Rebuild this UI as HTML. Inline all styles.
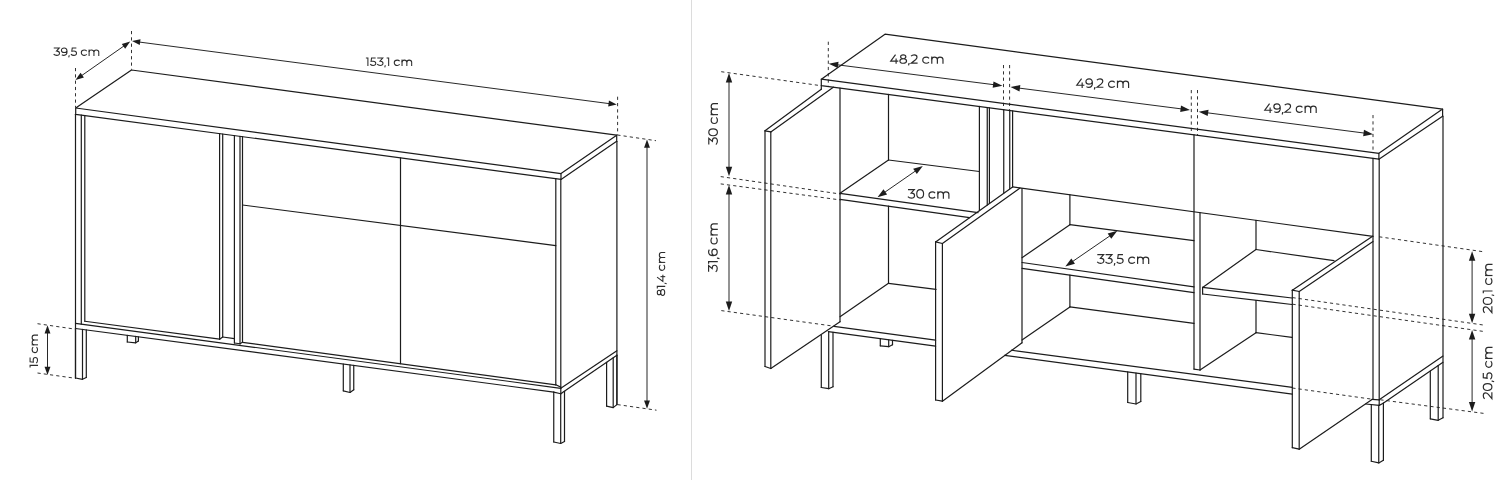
<!DOCTYPE html>
<html><head><meta charset="utf-8"><title>Sideboard dimensions</title>
<style>
html,body{margin:0;padding:0;background:#fff;}
body{width:1500px;height:480px;overflow:hidden;font-family:"Liberation Sans",sans-serif;}
svg{display:block}
.t{font-family:"Liberation Sans",sans-serif;fill:#333333;stroke:none;}
</style></head><body>
<svg width="1500" height="480" viewBox="0 0 1500 480">
<rect x="0" y="0" width="1500" height="480" fill="#ffffff"/>
<rect x="691" y="0" width="1" height="480" fill="#dcdcdc"/>
<g stroke="#1c1c1c" fill="none" stroke-linecap="round" stroke-linejoin="round">
<polygon points="75.70,108.00 131.50,70.00 616.70,135.20 561.00,173.60" fill="none" stroke-width="1.2"/>
<polyline points="75.70,108.00 75.70,114.30 561.00,179.40 561.00,173.60" fill="none" stroke-width="1.2"/>
<polyline points="561.00,179.40 616.70,141.30 616.70,135.20" fill="none" stroke-width="1.2"/>
<line x1="75.50" y1="114.30" x2="75.50" y2="378.00" stroke-width="1.2"/>
<line x1="81.30" y1="115.05" x2="81.30" y2="324.14" stroke-width="1.2"/>
<line x1="84.80" y1="115.52" x2="84.80" y2="321.27" stroke-width="1.2"/>
<line x1="84.80" y1="321.27" x2="219.60" y2="339.20" stroke-width="1.2"/>
<line x1="219.60" y1="133.60" x2="219.60" y2="339.20" stroke-width="1.2"/>
<line x1="222.70" y1="134.02" x2="222.70" y2="337.00" stroke-width="1.2"/>
<line x1="219.60" y1="339.20" x2="222.70" y2="337.00" stroke-width="1.2"/>
<line x1="222.70" y1="337.00" x2="234.40" y2="338.60" stroke-width="1.2"/>
<line x1="234.40" y1="135.59" x2="234.40" y2="343.03" stroke-width="1.2"/>
<line x1="240.00" y1="136.34" x2="240.00" y2="343.78" stroke-width="1.2"/>
<line x1="242.50" y1="136.68" x2="242.50" y2="342.30" stroke-width="1.2"/>
<line x1="234.40" y1="343.03" x2="240.00" y2="343.78" stroke-width="1.2"/>
<line x1="240.00" y1="343.78" x2="242.50" y2="342.30" stroke-width="1.2"/>
<line x1="242.50" y1="342.30" x2="555.80" y2="384.81" stroke-width="1.2"/>
<line x1="400.50" y1="157.87" x2="400.50" y2="363.74" stroke-width="1.2"/>
<line x1="555.80" y1="178.70" x2="555.80" y2="384.81" stroke-width="1.2"/>
<line x1="242.50" y1="205.00" x2="555.80" y2="245.60" stroke-width="1.2"/>
<line x1="560.80" y1="179.40" x2="560.80" y2="393.75" stroke-width="1.2"/>
<line x1="555.80" y1="384.81" x2="560.80" y2="387.10" stroke-width="1.2"/>
<line x1="616.90" y1="141.30" x2="616.90" y2="404.60" stroke-width="1.2"/>
<line x1="75.50" y1="323.37" x2="560.80" y2="388.30" stroke-width="1.2"/>
<line x1="75.50" y1="328.47" x2="553.75" y2="392.07" stroke-width="1.2"/>
<line x1="553.75" y1="392.07" x2="560.80" y2="393.75" stroke-width="1.2"/>
<line x1="560.80" y1="388.30" x2="616.90" y2="350.80" stroke-width="1.2"/>
<line x1="562.50" y1="392.60" x2="616.90" y2="355.20" stroke-width="1.2"/>
<line x1="560.80" y1="393.75" x2="562.50" y2="392.60" stroke-width="1.2"/>
<line x1="75.50" y1="328.47" x2="75.50" y2="378.00" stroke-width="1.2"/>
<line x1="82.50" y1="329.40" x2="82.50" y2="379.30" stroke-width="1.2"/>
<line x1="86.30" y1="329.90" x2="86.30" y2="377.50" stroke-width="1.2"/>
<polyline points="75.50,378.00 82.50,379.30 86.30,377.50" fill="none" stroke-width="1.2"/>
<line x1="127.30" y1="335.36" x2="127.30" y2="342.00" stroke-width="1.2"/>
<line x1="135.70" y1="336.47" x2="135.70" y2="342.80" stroke-width="1.2"/>
<line x1="138.40" y1="336.83" x2="138.40" y2="341.00" stroke-width="1.2"/>
<polyline points="127.30,342.00 135.70,342.80 138.40,341.00" fill="none" stroke-width="1.2"/>
<line x1="343.30" y1="364.08" x2="343.30" y2="390.80" stroke-width="1.2"/>
<line x1="350.00" y1="364.97" x2="350.00" y2="392.50" stroke-width="1.2"/>
<line x1="353.75" y1="365.47" x2="353.75" y2="389.80" stroke-width="1.2"/>
<polyline points="343.30,390.80 350.00,392.50 353.75,389.80" fill="none" stroke-width="1.2"/>
<line x1="553.75" y1="392.07" x2="553.75" y2="442.00" stroke-width="1.2"/>
<line x1="560.70" y1="393.75" x2="560.70" y2="443.50" stroke-width="1.2"/>
<line x1="564.50" y1="391.30" x2="564.50" y2="441.50" stroke-width="1.2"/>
<polyline points="553.75,442.00 560.70,443.50 564.50,441.50" fill="none" stroke-width="1.2"/>
<line x1="606.60" y1="362.28" x2="606.60" y2="406.10" stroke-width="1.2"/>
<line x1="613.20" y1="357.74" x2="613.20" y2="407.60" stroke-width="1.2"/>
<line x1="616.90" y1="355.20" x2="616.90" y2="404.60" stroke-width="1.2"/>
<polyline points="606.60,406.10 613.20,407.60 616.90,404.60" fill="none" stroke-width="1.2"/>
<line x1="75.50" y1="68.00" x2="75.50" y2="107.50" stroke-width="0.9" stroke-dasharray="3.2 3.1" stroke-linecap="butt"/>
<line x1="131.50" y1="31.00" x2="131.50" y2="69.70" stroke-width="0.9" stroke-dasharray="3.2 3.1" stroke-linecap="butt"/>
<line x1="80.87" y1="76.14" x2="124.83" y2="45.36" stroke-width="0.95"/>
<polygon points="130.20,41.60 125.17,48.72 121.79,43.89" fill="#1c1c1c" stroke="none"/>
<polygon points="75.50,79.90 80.53,72.78 83.91,77.61" fill="#1c1c1c" stroke="none"/>
<line x1="138.50" y1="41.95" x2="610.20" y2="103.75" stroke-width="0.95"/>
<polygon points="616.70,104.60 608.19,106.46 608.95,100.61" fill="#1c1c1c" stroke="none"/>
<polygon points="132.00,41.10 140.51,39.24 139.75,45.09" fill="#1c1c1c" stroke="none"/>
<line x1="617.60" y1="96.70" x2="617.60" y2="135.00" stroke-width="0.9" stroke-dasharray="3.2 3.1" stroke-linecap="butt"/>
<line x1="617.30" y1="135.00" x2="656.00" y2="140.70" stroke-width="0.9" stroke-dasharray="3.2 3.1" stroke-linecap="butt"/>
<line x1="617.50" y1="404.60" x2="656.50" y2="410.20" stroke-width="0.9" stroke-dasharray="3.2 3.1" stroke-linecap="butt"/>
<line x1="647.00" y1="146.06" x2="647.00" y2="402.14" stroke-width="0.95"/>
<polygon points="647.00,408.70 644.05,400.50 649.95,400.50" fill="#1c1c1c" stroke="none"/>
<polygon points="647.00,139.50 649.95,147.70 644.05,147.70" fill="#1c1c1c" stroke="none"/>
<line x1="37.50" y1="323.70" x2="75.50" y2="329.20" stroke-width="0.9" stroke-dasharray="3.2 3.1" stroke-linecap="butt"/>
<line x1="37.50" y1="373.00" x2="75.50" y2="378.30" stroke-width="0.9" stroke-dasharray="3.2 3.1" stroke-linecap="butt"/>
<line x1="47.50" y1="331.76" x2="47.50" y2="368.44" stroke-width="0.95"/>
<polygon points="47.50,375.00 44.55,366.80 50.45,366.80" fill="#1c1c1c" stroke="none"/>
<polygon points="47.50,325.20 50.45,333.40 44.55,333.40" fill="#1c1c1c" stroke="none"/>
<polygon points="821.30,79.20 885.00,34.20 1442.60,109.10 1378.90,153.30" fill="none" stroke-width="1.2"/>
<polyline points="821.30,79.20 821.30,85.60 1378.90,159.20 1378.90,153.30" fill="none" stroke-width="1.2"/>
<polyline points="1378.90,159.20 1442.60,116.20 1442.60,109.10" fill="none" stroke-width="1.2"/>
<line x1="821.30" y1="85.60" x2="821.30" y2="89.20" stroke-width="1.2"/>
<line x1="765.00" y1="130.80" x2="821.30" y2="89.20" stroke-width="1.2"/>
<line x1="770.80" y1="131.90" x2="833.30" y2="87.18" stroke-width="1.2"/>
<line x1="765.00" y1="130.80" x2="770.80" y2="131.90" stroke-width="1.2"/>
<line x1="765.00" y1="130.80" x2="765.00" y2="366.50" stroke-width="1.2"/>
<line x1="770.80" y1="131.90" x2="770.80" y2="368.50" stroke-width="1.2"/>
<line x1="765.00" y1="366.50" x2="770.80" y2="368.50" stroke-width="1.2"/>
<line x1="770.80" y1="368.50" x2="840.00" y2="321.70" stroke-width="1.2"/>
<line x1="840.00" y1="88.07" x2="840.00" y2="321.70" stroke-width="1.2"/>
<line x1="888.50" y1="94.47" x2="888.50" y2="160.00" stroke-width="1.2"/>
<line x1="888.50" y1="206.16" x2="888.50" y2="283.30" stroke-width="1.2"/>
<line x1="888.50" y1="160.00" x2="979.40" y2="171.50" stroke-width="1.2"/>
<line x1="840.00" y1="193.30" x2="888.50" y2="160.00" stroke-width="1.2"/>
<line x1="840.00" y1="193.30" x2="978.00" y2="212.57" stroke-width="1.2"/>
<line x1="840.00" y1="199.30" x2="969.50" y2="217.61" stroke-width="1.2"/>
<line x1="979.40" y1="106.47" x2="979.40" y2="210.60" stroke-width="1.2"/>
<line x1="987.25" y1="107.50" x2="987.25" y2="205.00" stroke-width="1.2"/>
<line x1="989.40" y1="107.79" x2="989.40" y2="203.50" stroke-width="1.2"/>
<line x1="1003.75" y1="109.68" x2="1003.75" y2="193.00" stroke-width="1.2"/>
<line x1="1009.75" y1="110.47" x2="1009.75" y2="188.80" stroke-width="1.2"/>
<line x1="1012.60" y1="110.85" x2="1012.60" y2="186.90" stroke-width="1.2"/>
<line x1="840.00" y1="316.70" x2="888.50" y2="283.30" stroke-width="1.2"/>
<line x1="888.50" y1="283.30" x2="936.00" y2="289.30" stroke-width="1.2"/>
<line x1="935.60" y1="241.90" x2="1012.60" y2="186.90" stroke-width="1.2"/>
<line x1="942.40" y1="243.50" x2="1020.00" y2="188.10" stroke-width="1.2"/>
<line x1="935.60" y1="241.90" x2="942.40" y2="243.50" stroke-width="1.2"/>
<line x1="935.60" y1="241.90" x2="935.60" y2="400.00" stroke-width="1.2"/>
<line x1="942.40" y1="243.50" x2="942.40" y2="401.20" stroke-width="1.2"/>
<line x1="935.60" y1="400.00" x2="942.40" y2="401.20" stroke-width="1.2"/>
<line x1="942.40" y1="401.20" x2="1022.00" y2="342.80" stroke-width="1.2"/>
<line x1="1022.00" y1="188.60" x2="1022.00" y2="342.80" stroke-width="1.2"/>
<line x1="1012.60" y1="186.90" x2="1373.00" y2="236.38" stroke-width="1.2"/>
<line x1="1194.00" y1="134.79" x2="1194.00" y2="369.10" stroke-width="1.2"/>
<line x1="1200.00" y1="212.63" x2="1200.00" y2="370.00" stroke-width="1.2"/>
<line x1="1194.00" y1="369.10" x2="1200.00" y2="370.00" stroke-width="1.2"/>
<line x1="1069.90" y1="194.77" x2="1069.90" y2="224.70" stroke-width="1.2"/>
<line x1="1069.90" y1="224.70" x2="1194.00" y2="240.70" stroke-width="1.2"/>
<line x1="1069.90" y1="224.70" x2="1022.00" y2="257.70" stroke-width="1.2"/>
<line x1="1022.00" y1="262.50" x2="1194.00" y2="286.80" stroke-width="1.2"/>
<line x1="1022.00" y1="268.30" x2="1194.00" y2="292.70" stroke-width="1.2"/>
<line x1="1069.90" y1="275.20" x2="1069.90" y2="306.90" stroke-width="1.2"/>
<line x1="1022.00" y1="340.00" x2="1069.90" y2="306.90" stroke-width="1.2"/>
<line x1="1069.90" y1="306.90" x2="1194.00" y2="323.30" stroke-width="1.2"/>
<line x1="1256.00" y1="220.32" x2="1256.00" y2="249.50" stroke-width="1.2"/>
<line x1="1256.00" y1="249.50" x2="1334.00" y2="260.70" stroke-width="1.2"/>
<line x1="1256.00" y1="249.50" x2="1202.60" y2="287.40" stroke-width="1.2"/>
<line x1="1202.60" y1="287.40" x2="1292.00" y2="298.00" stroke-width="1.2"/>
<line x1="1202.60" y1="294.00" x2="1292.00" y2="304.50" stroke-width="1.2"/>
<line x1="1202.60" y1="287.40" x2="1202.60" y2="294.00" stroke-width="1.2"/>
<line x1="1256.00" y1="300.50" x2="1256.00" y2="332.70" stroke-width="1.2"/>
<line x1="1200.00" y1="370.00" x2="1256.00" y2="332.70" stroke-width="1.2"/>
<line x1="1256.00" y1="332.70" x2="1292.00" y2="337.30" stroke-width="1.2"/>
<line x1="1292.30" y1="290.20" x2="1372.60" y2="236.20" stroke-width="1.2"/>
<line x1="1299.20" y1="291.50" x2="1373.00" y2="241.50" stroke-width="1.2"/>
<line x1="1292.30" y1="290.20" x2="1299.20" y2="291.50" stroke-width="1.2"/>
<line x1="1292.30" y1="290.20" x2="1292.30" y2="447.70" stroke-width="1.2"/>
<line x1="1299.20" y1="291.50" x2="1299.20" y2="449.20" stroke-width="1.2"/>
<line x1="1292.30" y1="447.70" x2="1299.20" y2="449.20" stroke-width="1.2"/>
<line x1="1299.20" y1="449.20" x2="1372.00" y2="399.40" stroke-width="1.2"/>
<line x1="1373.00" y1="158.42" x2="1373.00" y2="399.20" stroke-width="1.2"/>
<line x1="1379.20" y1="159.20" x2="1379.20" y2="405.40" stroke-width="1.2"/>
<line x1="1443.00" y1="116.20" x2="1443.00" y2="417.70" stroke-width="1.2"/>
<line x1="834.00" y1="326.39" x2="935.60" y2="340.20" stroke-width="1.2"/>
<line x1="828.30" y1="331.70" x2="935.60" y2="346.13" stroke-width="1.2"/>
<line x1="1011.50" y1="350.22" x2="1292.30" y2="387.29" stroke-width="1.2"/>
<line x1="1004.60" y1="355.41" x2="1292.30" y2="394.11" stroke-width="1.2"/>
<line x1="1379.20" y1="399.80" x2="1443.00" y2="356.10" stroke-width="1.2"/>
<line x1="1383.20" y1="403.20" x2="1443.00" y2="362.30" stroke-width="1.2"/>
<polyline points="1372.00,399.30 1379.20,399.80" fill="none" stroke-width="1.2"/>
<polyline points="1365.80,404.00 1379.20,405.40" fill="none" stroke-width="1.2"/>
<line x1="1379.20" y1="405.40" x2="1383.20" y2="403.20" stroke-width="1.2"/>
<line x1="821.30" y1="335.00" x2="821.30" y2="387.50" stroke-width="1.2"/>
<line x1="828.70" y1="331.70" x2="828.70" y2="388.70" stroke-width="1.2"/>
<line x1="833.00" y1="332.40" x2="833.00" y2="386.70" stroke-width="1.2"/>
<polyline points="821.30,387.50 828.70,388.70 833.00,386.70" fill="none" stroke-width="1.2"/>
<line x1="880.30" y1="338.69" x2="880.30" y2="345.80" stroke-width="1.2"/>
<line x1="888.70" y1="339.82" x2="888.70" y2="346.70" stroke-width="1.2"/>
<line x1="892.50" y1="340.33" x2="892.50" y2="344.70" stroke-width="1.2"/>
<polyline points="880.30,345.80 888.70,346.70 892.50,344.70" fill="none" stroke-width="1.2"/>
<line x1="1127.70" y1="371.97" x2="1127.70" y2="402.50" stroke-width="1.2"/>
<line x1="1136.00" y1="373.09" x2="1136.00" y2="404.00" stroke-width="1.2"/>
<line x1="1140.80" y1="373.73" x2="1140.80" y2="401.50" stroke-width="1.2"/>
<polyline points="1127.70,402.50 1136.00,404.00 1140.80,401.50" fill="none" stroke-width="1.2"/>
<line x1="1371.30" y1="404.60" x2="1371.30" y2="461.25" stroke-width="1.2"/>
<line x1="1378.75" y1="405.40" x2="1378.75" y2="462.90" stroke-width="1.2"/>
<line x1="1383.40" y1="403.20" x2="1383.40" y2="460.20" stroke-width="1.2"/>
<polyline points="1371.30,461.25 1378.75,462.90 1383.40,460.20" fill="none" stroke-width="1.2"/>
<line x1="1430.30" y1="370.98" x2="1430.30" y2="418.80" stroke-width="1.2"/>
<line x1="1438.20" y1="365.58" x2="1438.20" y2="420.30" stroke-width="1.2"/>
<polyline points="1430.30,418.80 1438.20,420.30 1443.00,417.70" fill="none" stroke-width="1.2"/>
<line x1="828.30" y1="41.70" x2="828.30" y2="87.00" stroke-width="0.9" stroke-dasharray="3.2 3.1" stroke-linecap="butt"/>
<line x1="836.24" y1="64.66" x2="994.96" y2="84.84" stroke-width="0.95"/>
<polygon points="1002.50,85.80 992.67,87.78 993.48,81.43" fill="#1c1c1c" stroke="none"/>
<polygon points="828.70,63.70 838.53,61.72 837.72,68.07" fill="#1c1c1c" stroke="none"/>
<line x1="1003.50" y1="65.00" x2="1003.50" y2="109.60" stroke-width="0.9" stroke-dasharray="3.2 3.1" stroke-linecap="butt"/>
<line x1="1009.60" y1="65.00" x2="1009.60" y2="110.20" stroke-width="0.9" stroke-dasharray="3.2 3.1" stroke-linecap="butt"/>
<line x1="1018.04" y1="87.97" x2="1182.46" y2="109.03" stroke-width="0.95"/>
<polygon points="1190.00,110.00 1180.17,111.97 1180.98,105.62" fill="#1c1c1c" stroke="none"/>
<polygon points="1010.50,87.00 1020.33,85.03 1019.52,91.38" fill="#1c1c1c" stroke="none"/>
<line x1="1191.30" y1="90.00" x2="1191.30" y2="134.50" stroke-width="0.9" stroke-dasharray="3.2 3.1" stroke-linecap="butt"/>
<line x1="1197.50" y1="90.00" x2="1197.50" y2="135.30" stroke-width="0.9" stroke-dasharray="3.2 3.1" stroke-linecap="butt"/>
<line x1="1206.24" y1="112.67" x2="1365.46" y2="133.23" stroke-width="0.95"/>
<polygon points="1373.00,134.20 1363.17,136.16 1363.99,129.81" fill="#1c1c1c" stroke="none"/>
<polygon points="1198.70,111.70 1208.53,109.74 1207.71,116.09" fill="#1c1c1c" stroke="none"/>
<line x1="1373.00" y1="115.00" x2="1373.00" y2="152.70" stroke-width="0.9" stroke-dasharray="3.2 3.1" stroke-linecap="butt"/>
<line x1="721.20" y1="71.70" x2="821.00" y2="85.70" stroke-width="0.9" stroke-dasharray="3.2 3.1" stroke-linecap="butt"/>
<line x1="729.00" y1="80.60" x2="729.00" y2="168.60" stroke-width="0.95"/>
<polygon points="729.00,176.20 725.80,166.70 732.20,166.70" fill="#1c1c1c" stroke="none"/>
<polygon points="729.00,73.00 732.20,82.50 725.80,82.50" fill="#1c1c1c" stroke="none"/>
<line x1="720.70" y1="176.60" x2="840.80" y2="194.10" stroke-width="0.9" stroke-dasharray="3.2 3.1" stroke-linecap="butt"/>
<line x1="720.70" y1="183.90" x2="840.80" y2="200.00" stroke-width="0.9" stroke-dasharray="3.2 3.1" stroke-linecap="butt"/>
<line x1="729.00" y1="192.60" x2="729.00" y2="303.30" stroke-width="0.95"/>
<polygon points="729.00,310.90 725.80,301.40 732.20,301.40" fill="#1c1c1c" stroke="none"/>
<polygon points="729.00,185.00 732.20,194.50 725.80,194.50" fill="#1c1c1c" stroke="none"/>
<line x1="721.30" y1="310.60" x2="834.00" y2="326.20" stroke-width="0.9" stroke-dasharray="3.2 3.1" stroke-linecap="butt"/>
<line x1="883.75" y1="192.97" x2="916.55" y2="170.23" stroke-width="0.95"/>
<polygon points="922.80,165.90 916.82,173.94 913.17,168.68" fill="#1c1c1c" stroke="none"/>
<polygon points="877.50,197.30 883.48,189.26 887.13,194.52" fill="#1c1c1c" stroke="none"/>
<line x1="1071.57" y1="262.20" x2="1111.03" y2="235.10" stroke-width="0.95"/>
<polygon points="1117.30,230.80 1111.28,238.82 1107.66,233.54" fill="#1c1c1c" stroke="none"/>
<polygon points="1065.30,266.50 1071.32,258.48 1074.94,263.76" fill="#1c1c1c" stroke="none"/>
<line x1="1379.20" y1="236.80" x2="1484.50" y2="251.90" stroke-width="0.9" stroke-dasharray="3.2 3.1" stroke-linecap="butt"/>
<line x1="1472.10" y1="258.80" x2="1472.10" y2="315.70" stroke-width="0.95"/>
<polygon points="1472.10,323.30 1468.90,313.80 1475.30,313.80" fill="#1c1c1c" stroke="none"/>
<polygon points="1472.10,251.20 1475.30,260.70 1468.90,260.70" fill="#1c1c1c" stroke="none"/>
<line x1="1292.50" y1="297.60" x2="1484.60" y2="325.20" stroke-width="0.9" stroke-dasharray="3.2 3.1" stroke-linecap="butt"/>
<line x1="1292.50" y1="304.20" x2="1484.60" y2="331.60" stroke-width="0.9" stroke-dasharray="3.2 3.1" stroke-linecap="butt"/>
<line x1="1472.10" y1="337.50" x2="1472.10" y2="403.80" stroke-width="0.95"/>
<polygon points="1472.10,411.40 1468.90,401.90 1475.30,401.90" fill="#1c1c1c" stroke="none"/>
<polygon points="1472.10,329.90 1475.30,339.40 1468.90,339.40" fill="#1c1c1c" stroke="none"/>
<line x1="1292.30" y1="388.00" x2="1372.00" y2="399.20" stroke-width="0.9" stroke-dasharray="3.2 3.1" stroke-linecap="butt"/>
<line x1="1380.40" y1="399.80" x2="1484.50" y2="413.50" stroke-width="0.9" stroke-dasharray="3.2 3.1" stroke-linecap="butt"/>
</g>
<g transform="translate(53.30,55.90) rotate(0) scale(0.01224,-0.01207)" fill="none" stroke="#2c2c2c" stroke-width="1.06" stroke-linecap="butt" stroke-linejoin="miter" vector-effect="non-scaling-stroke"><path vector-effect="non-scaling-stroke" transform="translate(-2,0)" d="M 38 658 L 488 658 L 260 400 C 275 398 290 398 306 398 C 432 398 507 330 507 222 C 507 110 419 42 281 42 C 179 42 86 82 30 150"/><path vector-effect="non-scaling-stroke" transform="translate(588,0)" d="M 110 95 C 155 60 210 42 275 42 C 445 42 535 160 535 360 C 535 550 445 658 295 658 C 165 658 75 580 75 465 C 75 350 160 275 285 275 C 410 275 515 350 532 450"/><path vector-effect="non-scaling-stroke" transform="translate(1198,0)" d="M 98 62 L 98 18 L 62 -118"/><path vector-effect="non-scaling-stroke" transform="translate(1398,0)" d="M 485 658 L 150 658 L 112 385 C 175 393 225 400 285 400 C 425 400 497 330 497 225 C 497 110 410 42 280 42 C 180 42 95 82 42 150"/><path vector-effect="non-scaling-stroke" transform="translate(2200,0)" d="M 530 405 C 478 460 412 488 335 488 C 190 488 88 395 88 265 C 88 135 190 42 335 42 C 412 42 478 70 530 125"/><path vector-effect="non-scaling-stroke" transform="translate(2805,0)" d="M 120 530 L 120 0"/><path vector-effect="non-scaling-stroke" transform="translate(2805,0)" d="M 120 320 C 120 425 190 488 305 488 C 430 488 515 425 515 315 L 515 0"/><path vector-effect="non-scaling-stroke" transform="translate(2805,0)" d="M 515 315 C 515 425 585 488 700 488 C 825 488 910 425 910 315 L 910 0"/></g><g transform="translate(365.90,66.00) rotate(0) scale(0.01221,-0.01207)" fill="none" stroke="#2c2c2c" stroke-width="1.06" stroke-linecap="butt" stroke-linejoin="miter" vector-effect="non-scaling-stroke"><path vector-effect="non-scaling-stroke" transform="translate(-18,0)" d="M 18 658 L 182 658 L 182 0"/><path vector-effect="non-scaling-stroke" transform="translate(312,0)" d="M 485 658 L 150 658 L 112 385 C 175 393 225 400 285 400 C 425 400 497 330 497 225 C 497 110 410 42 280 42 C 180 42 95 82 42 150"/><path vector-effect="non-scaling-stroke" transform="translate(892,0)" d="M 38 658 L 488 658 L 260 400 C 275 398 290 398 306 398 C 432 398 507 330 507 222 C 507 110 419 42 281 42 C 179 42 86 82 30 150"/><path vector-effect="non-scaling-stroke" transform="translate(1482,0)" d="M 98 62 L 98 18 L 62 -118"/><path vector-effect="non-scaling-stroke" transform="translate(1682,0)" d="M 18 658 L 182 658 L 182 0"/><path vector-effect="non-scaling-stroke" transform="translate(2234,0)" d="M 530 405 C 478 460 412 488 335 488 C 190 488 88 395 88 265 C 88 135 190 42 335 42 C 412 42 478 70 530 125"/><path vector-effect="non-scaling-stroke" transform="translate(2839,0)" d="M 120 530 L 120 0"/><path vector-effect="non-scaling-stroke" transform="translate(2839,0)" d="M 120 320 C 120 425 190 488 305 488 C 430 488 515 425 515 315 L 515 0"/><path vector-effect="non-scaling-stroke" transform="translate(2839,0)" d="M 515 315 C 515 425 585 488 700 488 C 825 488 910 425 910 315 L 910 0"/></g><g transform="translate(665.23,296.00) rotate(-90) scale(0.01249,-0.01207)" fill="none" stroke="#2c2c2c" stroke-width="1.06" stroke-linecap="butt" stroke-linejoin="miter" vector-effect="non-scaling-stroke"><path vector-effect="non-scaling-stroke" transform="translate(-32,0)" d="M 310 372 C 195 372 125 428 125 515 C 125 600 195 658 310 658 C 425 658 495 600 495 515 C 495 428 425 372 310 372 C 175 372 75 305 75 205 C 75 105 170 42 310 42 C 450 42 545 105 545 205 C 545 305 445 372 310 372 Z"/><path vector-effect="non-scaling-stroke" transform="translate(588,0)" d="M 18 658 L 182 658 L 182 0"/><path vector-effect="non-scaling-stroke" transform="translate(918,0)" d="M 98 62 L 98 18 L 62 -118"/><path vector-effect="non-scaling-stroke" transform="translate(1118,0)" d="M 392 676 L 50 195 L 588 195"/><path vector-effect="non-scaling-stroke" transform="translate(1118,0)" d="M 432 395 L 432 0"/><path vector-effect="non-scaling-stroke" transform="translate(1965,0)" d="M 530 405 C 478 460 412 488 335 488 C 190 488 88 395 88 265 C 88 135 190 42 335 42 C 412 42 478 70 530 125"/><path vector-effect="non-scaling-stroke" transform="translate(2570,0)" d="M 120 530 L 120 0"/><path vector-effect="non-scaling-stroke" transform="translate(2570,0)" d="M 120 320 C 120 425 190 488 305 488 C 430 488 515 425 515 315 L 515 0"/><path vector-effect="non-scaling-stroke" transform="translate(2570,0)" d="M 515 315 C 515 425 585 488 700 488 C 825 488 910 425 910 315 L 910 0"/></g><g transform="translate(38.02,367.40) rotate(-90) scale(0.01228,-0.01207)" fill="none" stroke="#2c2c2c" stroke-width="1.06" stroke-linecap="butt" stroke-linejoin="miter" vector-effect="non-scaling-stroke"><path vector-effect="non-scaling-stroke" transform="translate(-18,0)" d="M 18 658 L 182 658 L 182 0"/><path vector-effect="non-scaling-stroke" transform="translate(312,0)" d="M 485 658 L 150 658 L 112 385 C 175 393 225 400 285 400 C 425 400 497 330 497 225 C 497 110 410 42 280 42 C 180 42 95 82 42 150"/><path vector-effect="non-scaling-stroke" transform="translate(1114,0)" d="M 530 405 C 478 460 412 488 335 488 C 190 488 88 395 88 265 C 88 135 190 42 335 42 C 412 42 478 70 530 125"/><path vector-effect="non-scaling-stroke" transform="translate(1719,0)" d="M 120 530 L 120 0"/><path vector-effect="non-scaling-stroke" transform="translate(1719,0)" d="M 120 320 C 120 425 190 488 305 488 C 430 488 515 425 515 315 L 515 0"/><path vector-effect="non-scaling-stroke" transform="translate(1719,0)" d="M 515 315 C 515 425 585 488 700 488 C 825 488 910 425 910 315 L 910 0"/></g><g transform="translate(890.10,63.80) rotate(0) scale(0.01416,-0.01357)" fill="none" stroke="#2c2c2c" stroke-width="1.18" stroke-linecap="butt" stroke-linejoin="miter" vector-effect="non-scaling-stroke"><path vector-effect="non-scaling-stroke" transform="translate(-8,0)" d="M 392 676 L 50 195 L 588 195"/><path vector-effect="non-scaling-stroke" transform="translate(-8,0)" d="M 432 395 L 432 0"/><path vector-effect="non-scaling-stroke" transform="translate(617,0)" d="M 310 372 C 195 372 125 428 125 515 C 125 600 195 658 310 658 C 425 658 495 600 495 515 C 495 428 425 372 310 372 C 175 372 75 305 75 205 C 75 105 170 42 310 42 C 450 42 545 105 545 205 C 545 305 445 372 310 372 Z"/><path vector-effect="non-scaling-stroke" transform="translate(1237,0)" d="M 98 62 L 98 18 L 62 -118"/><path vector-effect="non-scaling-stroke" transform="translate(1437,0)" d="M 45 560 C 95 625 170 658 265 658 C 385 658 462 595 462 490 C 462 420 430 365 355 295 L 55 45 L 505 45"/><path vector-effect="non-scaling-stroke" transform="translate(2219,0)" d="M 530 405 C 478 460 412 488 335 488 C 190 488 88 395 88 265 C 88 135 190 42 335 42 C 412 42 478 70 530 125"/><path vector-effect="non-scaling-stroke" transform="translate(2824,0)" d="M 120 530 L 120 0"/><path vector-effect="non-scaling-stroke" transform="translate(2824,0)" d="M 120 320 C 120 425 190 488 305 488 C 430 488 515 425 515 315 L 515 0"/><path vector-effect="non-scaling-stroke" transform="translate(2824,0)" d="M 515 315 C 515 425 585 488 700 488 C 825 488 910 425 910 315 L 910 0"/></g><g transform="translate(1076.20,87.90) rotate(0) scale(0.01407,-0.01371)" fill="none" stroke="#2c2c2c" stroke-width="1.18" stroke-linecap="butt" stroke-linejoin="miter" vector-effect="non-scaling-stroke"><path vector-effect="non-scaling-stroke" transform="translate(-8,0)" d="M 392 676 L 50 195 L 588 195"/><path vector-effect="non-scaling-stroke" transform="translate(-8,0)" d="M 432 395 L 432 0"/><path vector-effect="non-scaling-stroke" transform="translate(617,0)" d="M 110 95 C 155 60 210 42 275 42 C 445 42 535 160 535 360 C 535 550 445 658 295 658 C 165 658 75 580 75 465 C 75 350 160 275 285 275 C 410 275 515 350 532 450"/><path vector-effect="non-scaling-stroke" transform="translate(1227,0)" d="M 98 62 L 98 18 L 62 -118"/><path vector-effect="non-scaling-stroke" transform="translate(1427,0)" d="M 45 560 C 95 625 170 658 265 658 C 385 658 462 595 462 490 C 462 420 430 365 355 295 L 55 45 L 505 45"/><path vector-effect="non-scaling-stroke" transform="translate(2209,0)" d="M 530 405 C 478 460 412 488 335 488 C 190 488 88 395 88 265 C 88 135 190 42 335 42 C 412 42 478 70 530 125"/><path vector-effect="non-scaling-stroke" transform="translate(2814,0)" d="M 120 530 L 120 0"/><path vector-effect="non-scaling-stroke" transform="translate(2814,0)" d="M 120 320 C 120 425 190 488 305 488 C 430 488 515 425 515 315 L 515 0"/><path vector-effect="non-scaling-stroke" transform="translate(2814,0)" d="M 515 315 C 515 425 585 488 700 488 C 825 488 910 425 910 315 L 910 0"/></g><g transform="translate(1264.20,112.90) rotate(0) scale(0.01396,-0.01371)" fill="none" stroke="#2c2c2c" stroke-width="1.18" stroke-linecap="butt" stroke-linejoin="miter" vector-effect="non-scaling-stroke"><path vector-effect="non-scaling-stroke" transform="translate(-8,0)" d="M 392 676 L 50 195 L 588 195"/><path vector-effect="non-scaling-stroke" transform="translate(-8,0)" d="M 432 395 L 432 0"/><path vector-effect="non-scaling-stroke" transform="translate(617,0)" d="M 110 95 C 155 60 210 42 275 42 C 445 42 535 160 535 360 C 535 550 445 658 295 658 C 165 658 75 580 75 465 C 75 350 160 275 285 275 C 410 275 515 350 532 450"/><path vector-effect="non-scaling-stroke" transform="translate(1227,0)" d="M 98 62 L 98 18 L 62 -118"/><path vector-effect="non-scaling-stroke" transform="translate(1427,0)" d="M 45 560 C 95 625 170 658 265 658 C 385 658 462 595 462 490 C 462 420 430 365 355 295 L 55 45 L 505 45"/><path vector-effect="non-scaling-stroke" transform="translate(2209,0)" d="M 530 405 C 478 460 412 488 335 488 C 190 488 88 395 88 265 C 88 135 190 42 335 42 C 412 42 478 70 530 125"/><path vector-effect="non-scaling-stroke" transform="translate(2814,0)" d="M 120 530 L 120 0"/><path vector-effect="non-scaling-stroke" transform="translate(2814,0)" d="M 120 320 C 120 425 190 488 305 488 C 430 488 515 425 515 315 L 515 0"/><path vector-effect="non-scaling-stroke" transform="translate(2814,0)" d="M 515 315 C 515 425 585 488 700 488 C 825 488 910 425 910 315 L 910 0"/></g><g transform="translate(718.00,145.00) rotate(-90) scale(0.01396,-0.01400)" fill="none" stroke="#2c2c2c" stroke-width="1.18" stroke-linecap="butt" stroke-linejoin="miter" vector-effect="non-scaling-stroke"><path vector-effect="non-scaling-stroke" transform="translate(-2,0)" d="M 38 658 L 488 658 L 260 400 C 275 398 290 398 306 398 C 432 398 507 330 507 222 C 507 110 419 42 281 42 C 179 42 86 82 30 150"/><path vector-effect="non-scaling-stroke" transform="translate(588,0)" d="M 320 42 C 165 42 75 165 75 350 C 75 535 165 658 320 658 C 475 658 565 535 565 350 C 565 165 475 42 320 42 Z"/><path vector-effect="non-scaling-stroke" transform="translate(1450,0)" d="M 530 405 C 478 460 412 488 335 488 C 190 488 88 395 88 265 C 88 135 190 42 335 42 C 412 42 478 70 530 125"/><path vector-effect="non-scaling-stroke" transform="translate(2055,0)" d="M 120 530 L 120 0"/><path vector-effect="non-scaling-stroke" transform="translate(2055,0)" d="M 120 320 C 120 425 190 488 305 488 C 430 488 515 425 515 315 L 515 0"/><path vector-effect="non-scaling-stroke" transform="translate(2055,0)" d="M 515 315 C 515 425 585 488 700 488 C 825 488 910 425 910 315 L 910 0"/></g><g transform="translate(717.80,272.30) rotate(-90) scale(0.01397,-0.01400)" fill="none" stroke="#2c2c2c" stroke-width="1.18" stroke-linecap="butt" stroke-linejoin="miter" vector-effect="non-scaling-stroke"><path vector-effect="non-scaling-stroke" transform="translate(-2,0)" d="M 38 658 L 488 658 L 260 400 C 275 398 290 398 306 398 C 432 398 507 330 507 222 C 507 110 419 42 281 42 C 179 42 86 82 30 150"/><path vector-effect="non-scaling-stroke" transform="translate(588,0)" d="M 18 658 L 182 658 L 182 0"/><path vector-effect="non-scaling-stroke" transform="translate(918,0)" d="M 98 62 L 98 18 L 62 -118"/><path vector-effect="non-scaling-stroke" transform="translate(1118,0)" d="M 500 605 C 455 640 400 658 335 658 C 165 658 75 540 75 340 C 75 150 165 42 315 42 C 445 42 535 120 535 235 C 535 350 450 425 325 425 C 200 425 95 350 78 250"/><path vector-effect="non-scaling-stroke" transform="translate(1950,0)" d="M 530 405 C 478 460 412 488 335 488 C 190 488 88 395 88 265 C 88 135 190 42 335 42 C 412 42 478 70 530 125"/><path vector-effect="non-scaling-stroke" transform="translate(2555,0)" d="M 120 530 L 120 0"/><path vector-effect="non-scaling-stroke" transform="translate(2555,0)" d="M 120 320 C 120 425 190 488 305 488 C 430 488 515 425 515 315 L 515 0"/><path vector-effect="non-scaling-stroke" transform="translate(2555,0)" d="M 515 315 C 515 425 585 488 700 488 C 825 488 910 425 910 315 L 910 0"/></g><g transform="translate(907.50,198.75) rotate(0) scale(0.01396,-0.01400)" fill="none" stroke="#2c2c2c" stroke-width="1.18" stroke-linecap="butt" stroke-linejoin="miter" vector-effect="non-scaling-stroke"><path vector-effect="non-scaling-stroke" transform="translate(-2,0)" d="M 38 658 L 488 658 L 260 400 C 275 398 290 398 306 398 C 432 398 507 330 507 222 C 507 110 419 42 281 42 C 179 42 86 82 30 150"/><path vector-effect="non-scaling-stroke" transform="translate(588,0)" d="M 320 42 C 165 42 75 165 75 350 C 75 535 165 658 320 658 C 475 658 565 535 565 350 C 565 165 475 42 320 42 Z"/><path vector-effect="non-scaling-stroke" transform="translate(1450,0)" d="M 530 405 C 478 460 412 488 335 488 C 190 488 88 395 88 265 C 88 135 190 42 335 42 C 412 42 478 70 530 125"/><path vector-effect="non-scaling-stroke" transform="translate(2055,0)" d="M 120 530 L 120 0"/><path vector-effect="non-scaling-stroke" transform="translate(2055,0)" d="M 120 320 C 120 425 190 488 305 488 C 430 488 515 425 515 315 L 515 0"/><path vector-effect="non-scaling-stroke" transform="translate(2055,0)" d="M 515 315 C 515 425 585 488 700 488 C 825 488 910 425 910 315 L 910 0"/></g><g transform="translate(1096.80,263.90) rotate(0) scale(0.01404,-0.01400)" fill="none" stroke="#2c2c2c" stroke-width="1.18" stroke-linecap="butt" stroke-linejoin="miter" vector-effect="non-scaling-stroke"><path vector-effect="non-scaling-stroke" transform="translate(-2,0)" d="M 38 658 L 488 658 L 260 400 C 275 398 290 398 306 398 C 432 398 507 330 507 222 C 507 110 419 42 281 42 C 179 42 86 82 30 150"/><path vector-effect="non-scaling-stroke" transform="translate(588,0)" d="M 38 658 L 488 658 L 260 400 C 275 398 290 398 306 398 C 432 398 507 330 507 222 C 507 110 419 42 281 42 C 179 42 86 82 30 150"/><path vector-effect="non-scaling-stroke" transform="translate(1178,0)" d="M 98 62 L 98 18 L 62 -118"/><path vector-effect="non-scaling-stroke" transform="translate(1378,0)" d="M 485 658 L 150 658 L 112 385 C 175 393 225 400 285 400 C 425 400 497 330 497 225 C 497 110 410 42 280 42 C 180 42 95 82 42 150"/><path vector-effect="non-scaling-stroke" transform="translate(2180,0)" d="M 530 405 C 478 460 412 488 335 488 C 190 488 88 395 88 265 C 88 135 190 42 335 42 C 412 42 478 70 530 125"/><path vector-effect="non-scaling-stroke" transform="translate(2785,0)" d="M 120 530 L 120 0"/><path vector-effect="non-scaling-stroke" transform="translate(2785,0)" d="M 120 320 C 120 425 190 488 305 488 C 430 488 515 425 515 315 L 515 0"/><path vector-effect="non-scaling-stroke" transform="translate(2785,0)" d="M 515 315 C 515 425 585 488 700 488 C 825 488 910 425 910 315 L 910 0"/></g><g transform="translate(1492.50,313.30) rotate(-90) scale(0.01416,-0.01400)" fill="none" stroke="#2c2c2c" stroke-width="1.18" stroke-linecap="butt" stroke-linejoin="miter" vector-effect="non-scaling-stroke"><path vector-effect="non-scaling-stroke" transform="translate(-8,0)" d="M 45 560 C 95 625 170 658 265 658 C 385 658 462 595 462 490 C 462 420 430 365 355 295 L 55 45 L 505 45"/><path vector-effect="non-scaling-stroke" transform="translate(552,0)" d="M 320 42 C 165 42 75 165 75 350 C 75 535 165 658 320 658 C 475 658 565 535 565 350 C 565 165 475 42 320 42 Z"/><path vector-effect="non-scaling-stroke" transform="translate(1192,0)" d="M 98 62 L 98 18 L 62 -118"/><path vector-effect="non-scaling-stroke" transform="translate(1392,0)" d="M 18 658 L 182 658 L 182 0"/><path vector-effect="non-scaling-stroke" transform="translate(1944,0)" d="M 530 405 C 478 460 412 488 335 488 C 190 488 88 395 88 265 C 88 135 190 42 335 42 C 412 42 478 70 530 125"/><path vector-effect="non-scaling-stroke" transform="translate(2549,0)" d="M 120 530 L 120 0"/><path vector-effect="non-scaling-stroke" transform="translate(2549,0)" d="M 120 320 C 120 425 190 488 305 488 C 430 488 515 425 515 315 L 515 0"/><path vector-effect="non-scaling-stroke" transform="translate(2549,0)" d="M 515 315 C 515 425 585 488 700 488 C 825 488 910 425 910 315 L 910 0"/></g><g transform="translate(1492.50,399.25) rotate(-90) scale(0.01399,-0.01400)" fill="none" stroke="#2c2c2c" stroke-width="1.18" stroke-linecap="butt" stroke-linejoin="miter" vector-effect="non-scaling-stroke"><path vector-effect="non-scaling-stroke" transform="translate(-8,0)" d="M 45 560 C 95 625 170 658 265 658 C 385 658 462 595 462 490 C 462 420 430 365 355 295 L 55 45 L 505 45"/><path vector-effect="non-scaling-stroke" transform="translate(552,0)" d="M 320 42 C 165 42 75 165 75 350 C 75 535 165 658 320 658 C 475 658 565 535 565 350 C 565 165 475 42 320 42 Z"/><path vector-effect="non-scaling-stroke" transform="translate(1192,0)" d="M 98 62 L 98 18 L 62 -118"/><path vector-effect="non-scaling-stroke" transform="translate(1392,0)" d="M 485 658 L 150 658 L 112 385 C 175 393 225 400 285 400 C 425 400 497 330 497 225 C 497 110 410 42 280 42 C 180 42 95 82 42 150"/><path vector-effect="non-scaling-stroke" transform="translate(2194,0)" d="M 530 405 C 478 460 412 488 335 488 C 190 488 88 395 88 265 C 88 135 190 42 335 42 C 412 42 478 70 530 125"/><path vector-effect="non-scaling-stroke" transform="translate(2799,0)" d="M 120 530 L 120 0"/><path vector-effect="non-scaling-stroke" transform="translate(2799,0)" d="M 120 320 C 120 425 190 488 305 488 C 430 488 515 425 515 315 L 515 0"/><path vector-effect="non-scaling-stroke" transform="translate(2799,0)" d="M 515 315 C 515 425 585 488 700 488 C 825 488 910 425 910 315 L 910 0"/></g>
</svg>
</body></html>
